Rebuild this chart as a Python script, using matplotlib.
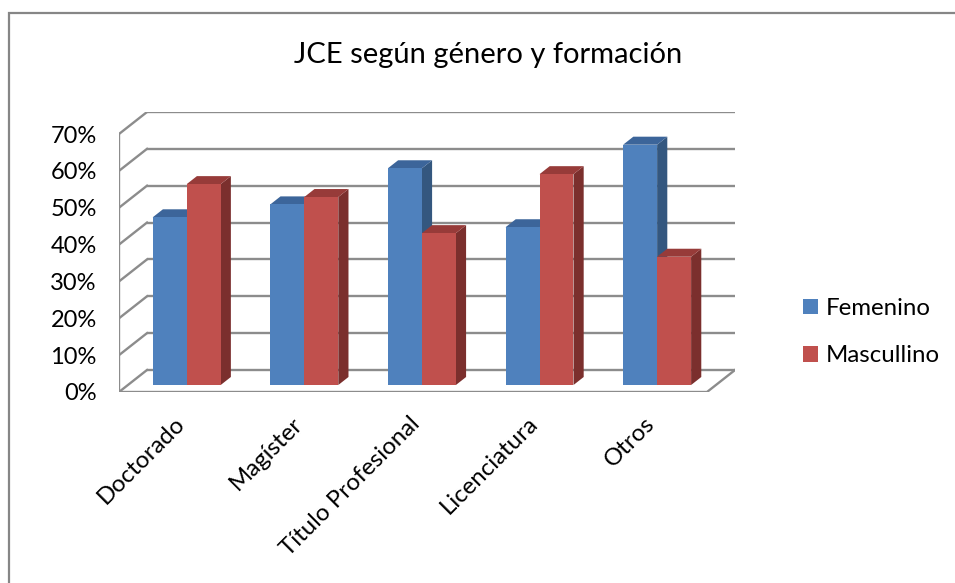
import matplotlib
matplotlib.use("Agg")
import matplotlib.pyplot as plt
import matplotlib.transforms as mtransforms
from matplotlib.patches import Polygon, Rectangle
import numpy as np

plt.rcParams['font.family'] = ['Lato', 'DejaVu Sans']

categories = ["Doctorado", "Magíster", "Título Profesional", "Licenciatura", "Otros"]
femenino = [45.5, 49.0, 58.8, 42.8, 65.2]
masculino = [54.5, 51.0, 41.2, 57.2, 34.8]
series_names = ["Femenino", "Mascullino"]
yticks = [0, 10, 20, 30, 40, 50, 60, 70]
ytick_labels = ["0%", "10%", "20%", "30%", "40%", "50%", "60%", "70%"]
title = "JCE según género y formación"

front_colors = ["#4F81BD", "#C0504D"]
top_colors = ["#3C659A", "#973B39"]
side_colors = ["#34577F", "#7B2F2D"]
grid_color = "#8C8C8C"

W_PX, H_PX = 955, 583
fig = plt.figure(figsize=(W_PX / 100, H_PX / 100), dpi=100)

# outer chart border
fig.add_artist(Rectangle((8.5 / W_PX, -0.1), 1.2, (H_PX - 13) / H_PX + 0.1,
                         transform=fig.transFigure, fill=False,
                         edgecolor="#868686", lw=1.6))

# depth offsets (data units)
DX = 0.238
DY = 5.97
left_px, right_px = 119, 735
bot_px, top_px = 392, 112
ax = fig.add_axes([left_px / W_PX, (H_PX - bot_px) / H_PX,
                   (right_px - left_px) / W_PX, (bot_px - top_px) / H_PX])
ax.set_xlim(-0.5, 4.5 + DX)
ax.set_ylim(0, 70 + DY)
for s in ax.spines.values():
    s.set_visible(False)
ax.patch.set_alpha(0)

# walls / gridlines
for v in yticks:
    ax.plot([-0.5 + DX, 4.5 + DX], [v + DY, v + DY], color=grid_color, lw=1.7,
            solid_capstyle='butt', zorder=1)
    ax.plot([-0.5, -0.5 + DX], [v, v + DY], color=grid_color, lw=1.7, zorder=1)
ax.plot([-0.5, -0.5], [0, 70], color=grid_color, lw=1.7, zorder=1)
ax.plot([-0.5, 4.5, 4.5 + DX], [0, 0, DY], color=grid_color, lw=1.7, zorder=1)

# bars
f_front = 0.318
f_depth = 0.364
fx, fy = f_front * DX, f_front * DY
ddx, ddy = f_depth * DX, f_depth * DY
BW = 0.289
z = 3
for i in range(len(categories)):
    for s, vals in enumerate([femenino, masculino]):
        v = vals[i]
        xl = i - BW + s * BW + fx
        side = Polygon([(xl + BW, fy), (xl + BW, fy + v), (xl + BW + ddx, fy + v + ddy),
                        (xl + BW + ddx, fy + ddy)], closed=True, facecolor=side_colors[s],
                       edgecolor='none', zorder=z)
        top = Polygon([(xl, fy + v), (xl + BW, fy + v), (xl + BW + ddx, fy + v + ddy),
                       (xl + ddx, fy + v + ddy)], closed=True, facecolor=top_colors[s],
                      edgecolor='none', zorder=z)
        ax.add_patch(side)
        ax.add_patch(top)
        ax.bar(xl, v, width=BW, bottom=fy, align='edge', color=front_colors[s],
               edgecolor='none', zorder=z + 0.5,
               label=series_names[s] if i == 0 else None)
        z += 1

# y ticks
ax.set_yticks(yticks)
ax.set_yticklabels(ytick_labels, fontsize=17, color="#000000")
ax.tick_params(axis='y', length=0, pad=16)

# x ticks
ax.set_xticks(range(len(categories)))
ax.set_xticklabels(categories, fontsize=17.3, rotation=45, ha='right',
                   rotation_mode='anchor')
ax.tick_params(axis='x', length=0, pad=15)
offset = mtransforms.ScaledTranslation(-4 / 100, 0, fig.dpi_scale_trans)
for lbl in ax.get_xticklabels():
    lbl.set_transform(lbl.get_transform() + offset)

# title
fig.text(488 / W_PX, 1 - 55 / H_PX, title, ha='center', va='center', fontsize=21)

# legend
leg = fig.legend(loc='upper left', bbox_to_anchor=(803 / W_PX, 1 - 298 / H_PX),
                 frameon=False, fontsize=17.3, handlelength=0.62, handleheight=0.62,
                 handletextpad=0.33, labelspacing=1.1, borderpad=0, borderaxespad=0)

fig.savefig("out.png", dpi=100)
